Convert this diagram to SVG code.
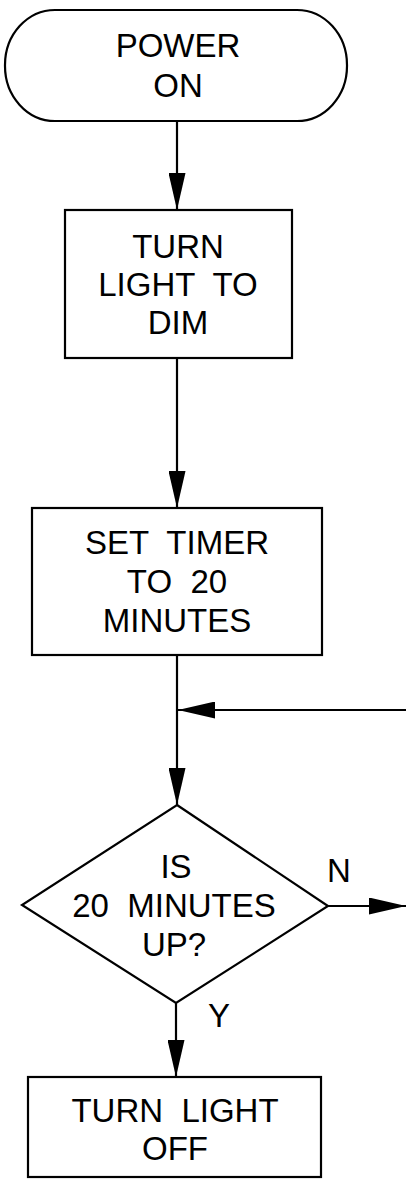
<svg xmlns="http://www.w3.org/2000/svg" width="406" height="1188" viewBox="0 0 406 1188">
<style>
.shape{fill:#fff;stroke:#000;stroke-width:2.2}
.conn{fill:none;stroke:#000;stroke-width:2.2}
.t{font-family:"Liberation Sans",Arial,sans-serif;font-size:33px;fill:#000;text-anchor:middle;white-space:pre}
</style>
<defs>
<marker id="ah" viewBox="0 0 37 17" refX="37" refY="8.5" markerWidth="37" markerHeight="17" markerUnits="userSpaceOnUse" orient="auto">
<path d="M0,0 L37,8.5 L0,17 Z" fill="#000"/>
</marker>
</defs>
<g id="connectors">
<line class="conn" x1="177" y1="121" x2="177" y2="210" marker-end="url(#ah)"/>
<line class="conn" x1="177" y1="358" x2="177" y2="508" marker-end="url(#ah)"/>
<line class="conn" x1="177" y1="655" x2="177" y2="805" marker-end="url(#ah)"/>
<line class="conn" x1="406" y1="710" x2="178" y2="710" marker-end="url(#ah)"/>
<line class="conn" x1="328" y1="906" x2="406" y2="906" marker-end="url(#ah)"/>
<line class="conn" x1="176" y1="1003" x2="176" y2="1077" marker-end="url(#ah)"/>
</g>
<g id="power-on">
<rect class="shape" x="5" y="10" width="342" height="111" rx="50" ry="55"/>
<text class="t" x="178" y="57">POWER</text>
<text class="t" x="178" y="97">ON</text>
</g>
<g id="turn-light-dim">
<rect class="shape" x="65" y="210" width="227" height="148"/>
<text class="t" x="178" y="258">TURN</text>
<text class="t" x="178" y="296" xml:space="preserve">LIGHT  TO</text>
<text class="t" x="178" y="334">DIM</text>
</g>
<g id="set-timer">
<rect class="shape" x="32" y="508" width="290" height="147"/>
<text class="t" x="177" y="554" xml:space="preserve">SET  TIMER</text>
<text class="t" x="177" y="593" xml:space="preserve">TO  20</text>
<text class="t" x="177" y="632">MINUTES</text>
</g>
<g id="decision">
<polygon class="shape" points="177,805 328,906 176,1003 22,905"/>
<text class="t" x="176" y="878">IS</text>
<text class="t" x="174" y="917" xml:space="preserve">20  MINUTES</text>
<text class="t" x="174" y="956">UP?</text>
</g>
<g id="labels">
<text class="t" x="339" y="882">N</text>
<text class="t" x="219" y="1027">Y</text>
</g>
<g id="turn-light-off">
<rect class="shape" x="28" y="1077" width="293" height="100"/>
<text class="t" x="175" y="1122" xml:space="preserve">TURN  LIGHT</text>
<text class="t" x="175" y="1160">OFF</text>
</g>
</svg>
